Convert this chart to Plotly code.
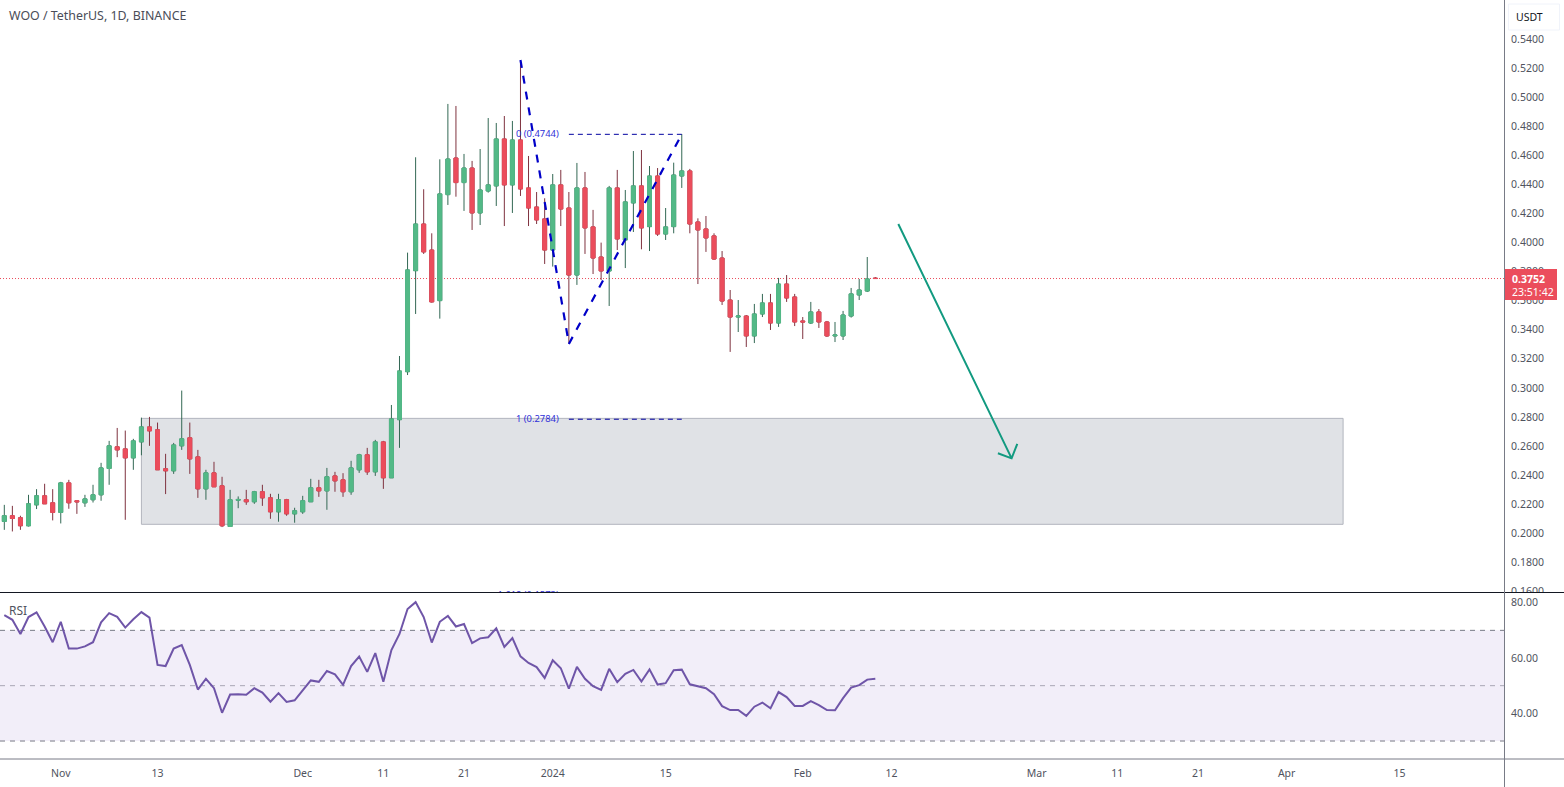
import numpy as np
import pandas as pd
import plotly.graph_objects as go
from plotly.subplots import make_subplots

# daily candles, 2023-10-25 .. 2024-02-10
dates = pd.date_range("2023-10-25", periods=109, freq="D")

open_ = [
    .2081, .2120, .2106, .2051, .2195, .2257, .2209, .2143, .2346, .2223,
    .2209, .2230, .2264, .2445, .2594, .2580, .2518, .2628, .2731, .2711,
    .2443, .2429, .2601, .2656, .2525, .2305, .2415, .2326, .2046, .2227,
    .2230, .2216, .2285, .2243, .2147, .2230, .2133, .2147, .2216, .2312,
    .2291, .2394, .2367, .2285, .2436, .2539, .2422, .2628, .2381, .2781,
    .3111, .3806, .4127, .3948, .3600, .4329, .4581, .4412, .4512, .4203,
    .4354, .4389, .4712, .4396, .4705, .4375, .4244, .4162, .3948, .4396,
    .4237, .3776, .4375, .4107, .3900, .3804, .4375, .4017, .4272, .4389,
    .4109, .4457, .4058, .4109, .4457, .4492, .4141, .4093, .4045, .3893,
    .3604, .3487, .3494, .3357, .3508, .3584, .3446, .3714, .3625, .3460,
    .3446, .3522, .3453, .3357, .3357, .3494, .3639, .3666, .3755,
]
high = [
    .2195, .2188, .2120, .2264, .2303, .2340, .2303, .2353, .2367, .2223,
    .2264, .2333, .2484, .2635, .2724, .2706, .2649, .2795, .2800, .2761,
    .2546, .2621, .2981, .2761, .2573, .2436, .2491, .2388, .2298, .2253,
    .2298, .2291, .2333, .2271, .2271, .2236, .2175, .2257, .2374, .2367,
    .2449, .2422, .2413, .2498, .2546, .2587, .2642, .2635, .2882, .3219,
    .3930, .4586, .4366, .4063, .4572, .4953, .4939, .4609, .4561, .4643,
    .4856, .4822, .4870, .4836, .5255, .4595, .4347, .4304, .4471, .4499,
    .4347, .4547, .4485, .4224, .3999, .4389, .4499, .4361, .4629, .4636,
    .4526, .4512, .4237, .4549, .4746, .4506, .4166, .4182, .4063, .3941,
    .3673, .3604, .3501, .3577, .3646, .3646, .3756, .3776, .3646, .3487,
    .3591, .3542, .3460, .3453, .3529, .3687, .3749, .3900, .3762,
]
low = [
    .2023, .2012, .2023, .2046, .2166, .2202, .2088, .2067, .2168, .2133,
    .2181, .2211, .2223, .2333, .2523, .2092, .2436, .2536, .2601, .2436,
    .2269, .2408, .2573, .2408, .2243, .2230, .2319, .2042, .2046, .2172,
    .2195, .2202, .2188, .2099, .2079, .2120, .2072, .2133, .2216, .2250,
    .2161, .2285, .2250, .2264, .2415, .2401, .2394, .2305, .2381, .2587,
    .3088, .3508, .3921, .3586, .3476, .4258, .4315, .4217, .4086, .4120,
    .4343, .4251, .4113, .4203, .4320, .4113, .4127, .3852, .3834, .4113,
    .3306, .3708, .3921, .3783, .3742, .3563, .3948, .3824, .4072, .3953,
    .3941, .4045, .4017, .4063, .4375, .4063, .3714, .3935, .3880, .3570,
    .3247, .3384, .3281, .3308, .3487, .3398, .3419, .3591, .3425, .3336,
    .3439, .3412, .3350, .3315, .3329, .3483, .3604, .3659, .3749,
]
close = [
    .2120, .2101, .2051, .2202, .2257, .2202, .2143, .2346, .2209, .2216,
    .2236, .2264, .2449, .2601, .2573, .2518, .2635, .2731, .2704, .2436,
    .2429, .2607, .2649, .2511, .2305, .2415, .2319, .2051, .2230, .2232,
    .2216, .2285, .2243, .2147, .2230, .2133, .2154, .2223, .2312, .2291,
    .2388, .2360, .2285, .2449, .2539, .2422, .2628, .2381, .2786, .3116,
    .3811, .4127, .3935, .3591, .4334, .4574, .4412, .4512, .4203, .4361,
    .4396, .4712, .4396, .4705, .4368, .4237, .4155, .3948, .4396, .4230,
    .3776, .4375, .4100, .3893, .3804, .4375, .4024, .4279, .4389, .4100,
    .4457, .4058, .4107, .4464, .4492, .4127, .4086, .4031, .3886, .3597,
    .3487, .3494, .3357, .3508, .3584, .3446, .3714, .3618, .3453, .3453,
    .3522, .3453, .3357, .3364, .3501, .3646, .3673, .3749, .3752,
]
rsi = [
    75.5, 73.8, 68.7, 74.8, 76.5, 71.4, 65.7, 73.1, 63.4, 63.4,
    64.2, 65.7, 72.9, 76.2, 74.9, 71.0, 74.0, 76.6, 74.6, 57.5,
    57.1, 63.4, 64.7, 57.5, 48.6, 52.5, 49.1, 40.2, 46.8, 46.9,
    46.7, 49.1, 47.5, 44.2, 47.3, 44.1, 44.7, 48.1, 51.9, 51.4,
    55.3, 54.1, 50.3, 57.1, 60.5, 55.0, 61.8, 51.4, 62.9, 68.7,
    77.7, 80.2, 74.8, 65.6, 73.1, 75.2, 71.4, 72.3, 65.4, 67.1,
    67.5, 70.7, 64.0, 67.2, 60.6, 58.2, 56.7, 52.8, 59.2, 56.3,
    48.9, 56.8, 52.5, 49.8, 48.5, 56.1, 51.3, 54.3, 55.7, 51.5,
    55.9, 50.4, 50.9, 55.6, 55.8, 50.5, 49.9, 49.1, 46.9, 42.6,
    41.2, 41.2, 39.1, 42.4, 43.9, 41.8, 47.7, 45.9, 42.7, 42.7,
    44.4, 43.0, 41.2, 41.1, 45.5, 49.3, 50.2, 52.2, 52.5,
]

# axis labels
price_ticks = [.16, .18, .20, .22, .24, .26, .28, .30, .32, .34, .36, .38,
               .40, .42, .44, .46, .48, .50, .52, .54]
rsi_ticks = [40, 60, 80]
date_ticks = ["2023-11-01", "2023-11-13", "2023-12-01", "2023-12-11", "2023-12-21",
              "2024-01-01", "2024-01-15", "2024-02-01", "2024-02-12", "2024-03-01",
              "2024-03-11", "2024-03-21", "2024-04-01", "2024-04-15"]
date_labels = ["Nov", "13", "Dec", "11", "21", "2024", "15", "Feb", "12", "Mar",
               "11", "21", "Apr", "15"]

# drawings on the chart
zigzag_x = ["2023-12-28", "2024-01-03", "2024-01-17"]
zigzag_y = [.5255, .3302, .4744]
fib_x = ["2024-01-03", "2024-01-17"]
fib_levels = [.4744, .2784]
fib_labels = ["0 (0.4744)", "1 (0.2784)", "1.618 (0.1573)"]
fib_label_y = [.4744, .2784, .1573]
zone_x = ["2023-11-11", "2024-04-08"]
zone_y = [.2061, .2790]
arrow_x = ["2024-02-12 20:24", "2024-02-26 21:36", "2024-02-25 04:48",
           "2024-02-26 21:36", "2024-02-27 14:24"]
arrow_y = [.4127, .2515, .2550, .2515, .2614]

GREEN = "#53b987"
RED = "#eb4d5c"
GREEN_WICK = "#336854"
RED_WICK = "#7f323f"
FONT = "Noto Sans"
TEXT = "#50535e"

W, H = 1564, 787
PLOT_W, PLOT_H = 1504, 759


def px(x):
    return x / PLOT_W


def py(y):
    return 1 - y / PLOT_H


fig = make_subplots(rows=2, cols=1, shared_xaxes=False)

body_low = np.minimum(open_, close)
body_high = np.maximum(open_, close)

# wicks first, then the bodies again on top so they get a lighter colour
fig.add_trace(go.Candlestick(
    x=dates, open=open_, high=high, low=low, close=close,
    increasing=dict(line=dict(color=GREEN_WICK, width=1), fillcolor=GREEN),
    decreasing=dict(line=dict(color=RED_WICK, width=1), fillcolor=RED),
    whiskerwidth=0,
), row=1, col=1)
fig.add_trace(go.Candlestick(
    x=dates, open=open_, high=body_high, low=body_low, close=close,
    increasing=dict(line=dict(color=GREEN, width=1), fillcolor=GREEN),
    decreasing=dict(line=dict(color=RED, width=1), fillcolor=RED),
    whiskerwidth=0,
), row=1, col=1)

fig.add_trace(go.Scatter(x=zigzag_x, y=zigzag_y, mode="lines",
                         line=dict(color="#0000c8", width=2.2, dash="8px,8px")), row=1, col=1)
for level in fib_levels:
    fig.add_trace(go.Scatter(x=fib_x, y=[level, level], mode="lines",
                             line=dict(color="#0000a0", width=1, dash="5px,4px")), row=1, col=1)
fig.add_trace(go.Scatter(x=["2024-01-01 18:00"] * 3, y=fib_label_y, mode="text",
                         text=fib_labels, textposition="middle left",
                         textfont=dict(family=FONT, size=9.4, color="#3030d8")), row=1, col=1)
fig.add_trace(go.Scatter(x=arrow_x, y=arrow_y, mode="lines",
                         line=dict(color="#129a80", width=2)), row=1, col=1)

fig.add_trace(go.Scatter(x=dates, y=rsi, mode="lines",
                         line=dict(color="#6f55a8", width=2)), row=2, col=1)

# grey zone, price line, rsi band
fig.add_shape(type="rect", xref="x", yref="y", x0=zone_x[0], x1=zone_x[1],
              y0=zone_y[0], y1=zone_y[1], layer="below",
              fillcolor="#e0e2e6", line=dict(color="#b2b5be", width=1))
fig.add_shape(type="line", xref="x domain", yref="y", x0=0, x1=1, y0=close[-1], y1=close[-1],
              layer="below", line=dict(color=RED, width=1, dash="1px,2px"))
fig.add_shape(type="rect", xref="x2 domain", yref="y2", x0=0, x1=1, y0=30, y1=70, layer="below",
              fillcolor="#f2eef9", line=dict(width=0))
for lvl, col in [(70, "#787b86"), (50, "#a9a6b4"), (30, "#787b86")]:
    fig.add_shape(type="line", xref="x2 domain", yref="y2", x0=0, x1=1, y0=lvl, y1=lvl,
                  layer="below", line=dict(color=col, width=1, dash="5px,5px"))

# pane borders and the covers over the axis
fig.add_shape(type="rect", xref="paper", yref="paper", x0=px(1505), x1=px(W), y0=py(597), y1=py(592),
              fillcolor="white", line=dict(width=0))
fig.add_shape(type="line", xref="paper", yref="paper", x0=0, x1=px(W), y0=py(592.5), y1=py(592.5),
              line=dict(color="#131722", width=1))
fig.add_shape(type="line", xref="paper", yref="paper", x0=0, x1=px(W), y0=py(759), y1=py(759),
              line=dict(color="#787b86", width=1))
fig.add_shape(type="line", xref="paper", yref="paper", x0=px(1504.5), x1=px(1504.5), y0=py(0), y1=py(H),
              line=dict(color="#787b86", width=1))
fig.add_shape(type="rect", xref="paper", yref="paper", x0=px(1505), x1=px(1557), y0=py(300), y1=py(269),
              fillcolor=RED, line=dict(width=0))
fig.add_shape(type="rect", xref="paper", yref="paper", x0=px(1508.5), x1=px(1559.5), y0=py(30), y1=py(4),
              fillcolor="white", line=dict(color="#f0f3fa", width=1))

notes = [
    dict(x=8, y=16, text="WOO / TetherUS, 1D, BINANCE", size=12.4, color="#4a4d58", anchor="left"),
    dict(x=8, y=610, text="RSI", size=12, color=TEXT, anchor="left"),
    dict(x=1529, y=17, text="USDT", size=10.5, color="#131722", anchor="center"),
    dict(x=1511, y=279, text="<b>0.3752</b>", size=10.5, color="white", anchor="left"),
    dict(x=1511, y=292, text="23:51:42", size=10.5, color="white", anchor="left"),
]
for n in notes:
    fig.add_annotation(xref="paper", yref="paper", x=px(n["x"]), y=py(n["y"]), text=n["text"],
                       showarrow=False, xanchor=n["anchor"], yanchor="middle", borderpad=0,
                       font=dict(family=FONT, size=n["size"], color=n["color"]))

date_range = ["2023-10-24 11:12", "2024-04-27 22:48"]
fig.update_layout(
    width=W, height=H,
    margin=dict(l=0, r=W - PLOT_W, t=0, b=H - PLOT_H),
    paper_bgcolor="white", plot_bgcolor="white",
    showlegend=False, boxgap=0.3,
    font=dict(family=FONT, size=10.5, color=TEXT),
    xaxis=dict(domain=[0, 1], range=date_range, rangeslider=dict(visible=False),
               showgrid=False, showticklabels=False, ticks="", zeroline=False),
    xaxis2=dict(domain=[0, 1], range=date_range, showgrid=False, zeroline=False,
                tickmode="array", tickvals=date_ticks, ticktext=date_labels,
                ticks="outside", ticklen=4, tickcolor="rgba(0,0,0,0)",
                tickfont=dict(family=FONT, size=10.5, color=TEXT)),
    yaxis=dict(domain=[py(592.5), 1], range=[.1592, .5668], side="right", showgrid=False, zeroline=False,
               tickmode="array", tickvals=price_ticks, tickformat=".4f",
               ticks="outside", ticklen=4, tickcolor="rgba(0,0,0,0)",
               tickfont=dict(family=FONT, size=10.5, color=TEXT)),
    yaxis2=dict(domain=[0, py(593)], range=[23.5, 83.5], side="right", showgrid=False, zeroline=False,
                tickmode="array", tickvals=rsi_ticks, tickformat=".2f",
                ticks="outside", ticklen=4, tickcolor="rgba(0,0,0,0)",
                tickfont=dict(family=FONT, size=10.5, color=TEXT)),
)

fig.write_html("out.html", config={"displayModeBar": False},
               post_script="document.body.style.margin='0';")
